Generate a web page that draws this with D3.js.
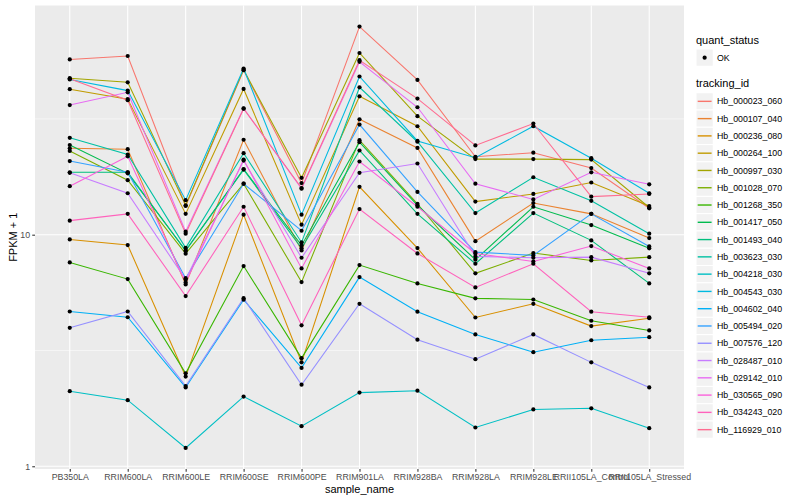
<!DOCTYPE html>
<html>
<head>
<meta charset="utf-8">
<script src="https://cdn.jsdelivr.net/npm/d3@7"></script>
<style>
  html, body { margin: 0; padding: 0; background: #ffffff; }
  svg { display: block; font-family: "Liberation Sans", Arial, Helvetica, sans-serif; }
</style>
</head>
<body>
<svg id="chart" width="800" height="500"></svg>
<script>
// ---------------- data ----------------
const samples = ["PB350LA","RRIM600LA","RRIM600LE","RRIM600SE","RRIM600PE","RRIM901LA",
                 "RRIM928BA","RRIM928LA","RRIM928LE","RRII105LA_Control","RRII105LA_Stressed"];

const trackingIds = ["Hb_000023_060","Hb_000107_040","Hb_000236_080","Hb_000264_100","Hb_000997_030",
  "Hb_001028_070","Hb_001268_350","Hb_001417_050","Hb_001493_040","Hb_003623_030",
  "Hb_004218_030","Hb_004543_030","Hb_004602_040","Hb_005494_020","Hb_007576_120",
  "Hb_028487_010","Hb_029142_010","Hb_030565_090","Hb_034243_020","Hb_116929_010"];

const hb_000023_060 = [57.1, 59.1, 13.3, 51.3, 16.7, 79.2, 46.6, 21.7, 22.6, 19.4, 13.0];
const hb_000107_040 = [23.6, 23.4, 6.10, 25.7, 8.55, 31.5, 23.7, 9.38, 13.7, 12.3, 9.67];
const hb_000236_080 = [9.54, 9.02, 2.44, 12.2, 2.81, 16.1, 8.75, 4.39, 5.03, 4.03, 4.36];
const hb_000264_100 = [42.5, 38.5, 12.3, 42.6, 11.05, 39.6, 29.4, 13.9, 15.0, 16.8, 13.3];
const hb_000997_030 = [47.4, 45.5, 13.4, 51.6, 17.6, 60.9, 32.5, 21.2, 21.2, 21.1, 13.1];
const hb_001028_070 = [23.0, 17.2, 8.28, 16.6, 6.24, 25.6, 13.6, 6.81, 8.33, 7.74, 8.00];
const hb_001268_350 = [7.59, 6.43, 2.52, 7.32, 2.93, 7.39, 6.16, 5.31, 5.25, 4.25, 3.86];
const hb_001417_050 = [24.4, 18.4, 8.55, 19.2, 8.99, 25.1, 13.4, 7.80, 13.2, 11.0, 8.73];
const hb_001493_040 = [18.6, 18.6, 8.51, 19.1, 8.73, 23.1, 12.3, 7.49, 12.4, 9.45, 6.16];
const hb_003623_030 = [26.2, 22.2, 8.77, 22.5, 9.26, 43.3, 25.2, 12.4, 17.7, 14.0, 10.1];
const hb_004218_030 = [2.11, 1.93, 1.20, 2.00, 1.49, 2.08, 2.12, 1.47, 1.76, 1.78, 1.46];
const hb_004543_030 = [46.8, 41.9, 14.1, 52.2, 12.2, 48.2, 25.4, 21.5, 29.4, 21.4, 15.1];
const hb_004602_040 = [4.66, 4.40, 2.19, 5.24, 2.66, 6.56, 4.65, 3.71, 3.11, 3.50, 3.61];
const hb_005494_020 = [20.8, 18.6, 6.49, 16.6, 10.4, 29.9, 15.3, 8.41, 8.14, 12.3, 8.90];
const hb_007576_120 = [3.96, 4.66, 2.22, 5.32, 2.25, 5.03, 3.52, 2.90, 3.71, 2.81, 2.19];
const hb_028487_010 = [18.5, 15.1, 6.41, 20.9, 7.95, 18.5, 20.3, 8.06, 7.95, 8.00, 6.81];
const hb_029142_010 = [36.3, 41.2, 10.3, 35.1, 15.8, 55.8, 35.5, 16.6, 14.2, 18.6, 16.5];
const hb_030565_090 = [16.2, 21.8, 6.22, 21.1, 7.15, 20.7, 13.2, 8.30, 7.66, 8.93, 7.15];
const hb_034243_020 = [11.5, 12.3, 5.43, 13.2, 4.06, 12.9, 8.30, 5.92, 7.49, 4.65, 4.40];
const hb_116929_010 = [47.1, 38.1, 10.1, 35.0, 15.9, 56.7, 38.7, 24.3, 30.2, 14.6, 15.0];

const seriesValues = [hb_000023_060, hb_000107_040, hb_000236_080, hb_000264_100, hb_000997_030,
  hb_001028_070, hb_001268_350, hb_001417_050, hb_001493_040, hb_003623_030,
  hb_004218_030, hb_004543_030, hb_004602_040, hb_005494_020, hb_007576_120,
  hb_028487_010, hb_029142_010, hb_030565_090, hb_034243_020, hb_116929_010];

const yTickValues = [1, 10];
const yTickLabels = ["1", "10"];
const quantLevels = ["OK"];

const palette = ["#F8766D","#EA8331","#D89000","#C09B00","#A3A500","#7CAE00","#39B600","#00BB4E",
  "#00BF7D","#00C1A3","#00BFC4","#00BAE0","#00B0F6","#35A2FF","#9590FF","#C77CFF","#E76BF3",
  "#FA62DB","#FF62BC","#FF6C91"];

// ---------------- layout ----------------
const svg = d3.select("#chart");
const panel = { left: 35, right: 684, top: 5.5, bottom: 469 };

const x = d3.scalePoint().domain(samples).range([panel.left, panel.right]).padding(0.6);

const allVals = seriesValues.flat();
const lmin = Math.log10(d3.min(allVals)), lmax = Math.log10(d3.max(allVals));
const ex = (lmax - lmin) * 0.05;
const y = d3.scaleLog().domain([Math.pow(10, lmin - ex), Math.pow(10, lmax + ex)])
  .range([panel.bottom, panel.top]);

const color = d3.scaleOrdinal().domain(trackingIds).range(palette);

// panel background
svg.append("rect").attr("x", panel.left).attr("y", panel.top)
  .attr("width", panel.right - panel.left).attr("height", panel.bottom - panel.top)
  .attr("fill", "#EBEBEB");

const grid = svg.append("g");
// minor y grid (midpoints in log space)
[-0.5, 0.5, 1.5].map(e => Math.pow(10, e)).filter(v => v >= y.domain()[0] && v <= y.domain()[1])
  .forEach(v => {
    grid.append("line").attr("x1", panel.left).attr("x2", panel.right)
      .attr("y1", y(v)).attr("y2", y(v)).attr("stroke", "#FFFFFF").attr("stroke-width", 0.53);
  });
// major y grid
yTickValues.forEach(v => {
  grid.append("line").attr("x1", panel.left).attr("x2", panel.right)
    .attr("y1", y(v)).attr("y2", y(v)).attr("stroke", "#FFFFFF").attr("stroke-width", 1.07);
});
// major x grid
samples.forEach(s => {
  grid.append("line").attr("x1", x(s)).attr("x2", x(s))
    .attr("y1", panel.top).attr("y2", panel.bottom).attr("stroke", "#FFFFFF").attr("stroke-width", 1.07);
});

// lines
const line = d3.line().x((d, i) => x(samples[i])).y(d => y(d));
const gLines = svg.append("g");
seriesValues.forEach((vals, k) => {
  gLines.append("path").attr("d", line(vals)).attr("fill", "none")
    .attr("stroke", color(trackingIds[k])).attr("stroke-width", 1.07);
});

// points
const gPts = svg.append("g");
seriesValues.forEach((vals, k) => {
  vals.forEach((v, i) => {
    gPts.append("circle").attr("cx", x(samples[i])).attr("cy", y(v)).attr("r", 2.1).attr("fill", "#000000");
  });
});

// axes
const yAxis = d3.axisLeft(y).tickValues(yTickValues).tickFormat((d, i) => yTickLabels[i])
  .tickSize(2.75).tickPadding(2.2);
const gy = svg.append("g").attr("transform", `translate(${panel.left},0)`).call(yAxis);
gy.select(".domain").remove();
gy.selectAll(".tick line").attr("stroke", "#333333").attr("stroke-width", 1.07);
gy.selectAll(".tick text").attr("fill", "#4D4D4D").attr("font-size", "8.8px")
  .attr("font-family", "Liberation Sans, Arial, sans-serif");

const xAxis = d3.axisBottom(x).tickSize(2.75).tickPadding(2.2);
const gx = svg.append("g").attr("transform", `translate(0,${panel.bottom})`).call(xAxis);
gx.select(".domain").remove();
gx.selectAll(".tick line").attr("stroke", "#333333").attr("stroke-width", 1.07);
gx.selectAll(".tick text").attr("fill", "#4D4D4D").attr("font-size", "8.8px")
  .attr("font-family", "Liberation Sans, Arial, sans-serif");

// axis titles
svg.append("text").attr("x", (panel.left + panel.right) / 2).attr("y", 492.5)
  .attr("text-anchor", "middle").attr("font-size", "11px").attr("fill", "#000").text("sample_name");
svg.append("text").attr("transform", `translate(16.5,${(panel.top + panel.bottom) / 2}) rotate(-90)`)
  .attr("text-anchor", "middle").attr("font-size", "11px").attr("fill", "#000").text("FPKM + 1");

// legends
const lg = svg.append("g");
const keyX = 696, keyS = 17.28, txtX = 717;
lg.append("text").attr("x", keyX).attr("y", 43.5).attr("font-size", "11px").text("quant_status");
quantLevels.forEach((q, i) => {
  const ky = 49 + i * keyS;
  lg.append("rect").attr("x", keyX).attr("y", ky).attr("width", keyS).attr("height", keyS)
    .attr("fill", "#F2F2F2").attr("stroke", "#FFFFFF").attr("stroke-width", 1.07);
  lg.append("circle").attr("cx", keyX + keyS / 2).attr("cy", ky + keyS / 2).attr("r", 2.1).attr("fill", "#000");
  lg.append("text").attr("x", txtX).attr("y", ky + keyS / 2 + 3.1).attr("font-size", "8.8px").text(q);
});

lg.append("text").attr("x", keyX).attr("y", 87).attr("font-size", "11px").text("tracking_id");
trackingIds.forEach((id, i) => {
  const ky = 92.7 + i * keyS;
  lg.append("rect").attr("x", keyX).attr("y", ky).attr("width", keyS).attr("height", keyS)
    .attr("fill", "#F2F2F2").attr("stroke", "#FFFFFF").attr("stroke-width", 1.07);
  lg.append("line").attr("x1", keyX + 1.7).attr("x2", keyX + keyS - 1.7)
    .attr("y1", ky + keyS / 2).attr("y2", ky + keyS / 2)
    .attr("stroke", color(id)).attr("stroke-width", 1.4);
  lg.append("text").attr("x", txtX).attr("y", ky + keyS / 2 + 3.1).attr("font-size", "8.8px").text(id);
});
</script>
</body>
</html>
